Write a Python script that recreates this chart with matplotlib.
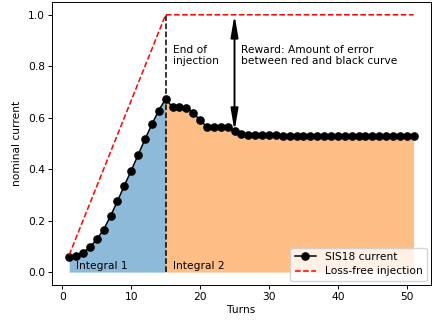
import matplotlib
matplotlib.use("Agg")
import matplotlib.pyplot as plt
import numpy as np

turns = list(range(1, 52))
sis18 = [0.058, 0.063, 0.076, 0.096, 0.127, 0.165, 0.218, 0.275, 0.336, 0.394,
         0.455, 0.516, 0.574, 0.628, 0.673,
         0.641, 0.640, 0.638, 0.620, 0.590, 0.564, 0.564, 0.564, 0.564, 0.548,
         0.535, 0.533, 0.532, 0.532, 0.531, 0.531, 0.530, 0.530, 0.530, 0.530,
         0.529, 0.529, 0.529, 0.529, 0.529, 0.528, 0.528, 0.528, 0.528, 0.528,
         0.528, 0.528, 0.528, 0.528, 0.528, 0.528]
lossfree_x = [1, 15, 51]
lossfree_y = [1/15, 1.0, 1.0]
end_inj = 15
reward_turn = 25

fs = 7.7
plt.rcParams['font.size'] = fs
fig, ax = plt.subplots(figsize=(4.33, 3.22), dpi=100)
fig.subplots_adjust(left=0.120, right=0.995, top=0.994, bottom=0.115)

t = np.array(turns)
s = np.array(sis18)
m1 = t <= end_inj
m2 = t >= end_inj
ax.fill_between(t[m1], 0, s[m1], color='#1f77b4', alpha=0.5, lw=0)
ax.fill_between(t[m2], 0, s[m2], color='#ff7f0e', alpha=0.5, lw=0)

ax.plot(t, s, 'o-', color='black', lw=1.1, ms=5.2, label='SIS18 current')
ax.plot(lossfree_x, lossfree_y, '--', color='red', lw=1.1, label='Loss-free injection')
ax.plot([end_inj, end_inj], [0, 1.0], '--', color='black', lw=1.1)

ax.annotate('', xy=(reward_turn, 1.0), xytext=(reward_turn, s[reward_turn - 1]),
            arrowprops=dict(arrowstyle='<|-|>,head_length=1.0,head_width=0.17',
                            color='black', lw=1.4,
                            shrinkA=0, shrinkB=0, mutation_scale=13))

ax.text(16.0, 0.80, 'End of\ninjection', fontsize=fs, va='bottom', ha='left')
ax.text(26.0, 0.80, 'Reward: Amount of error\nbetween red and black curve',
        fontsize=fs, va='bottom', ha='left')
ax.text(2.0, 0.005, 'Integral 1', fontsize=fs, va='bottom', ha='left')
ax.text(16.0, 0.005, 'Integral 2', fontsize=fs, va='bottom', ha='left')

ax.set_xlabel('Turns', fontsize=fs, labelpad=2)
ax.set_ylabel('nominal current', fontsize=fs, labelpad=4)
ax.set_xticks([0, 10, 20, 30, 40, 50])
ax.set_yticks([0.0, 0.2, 0.4, 0.6, 0.8, 1.0])
ax.tick_params(labelsize=fs, length=3, width=0.7, pad=2)
for sp in ax.spines.values():
    sp.set_linewidth(0.7)
ax.legend(loc='lower right', fontsize=fs, handlelength=2.0, borderpad=0.4,
          labelspacing=0.4, borderaxespad=0.4)

fig.savefig('out.png', dpi=100)
